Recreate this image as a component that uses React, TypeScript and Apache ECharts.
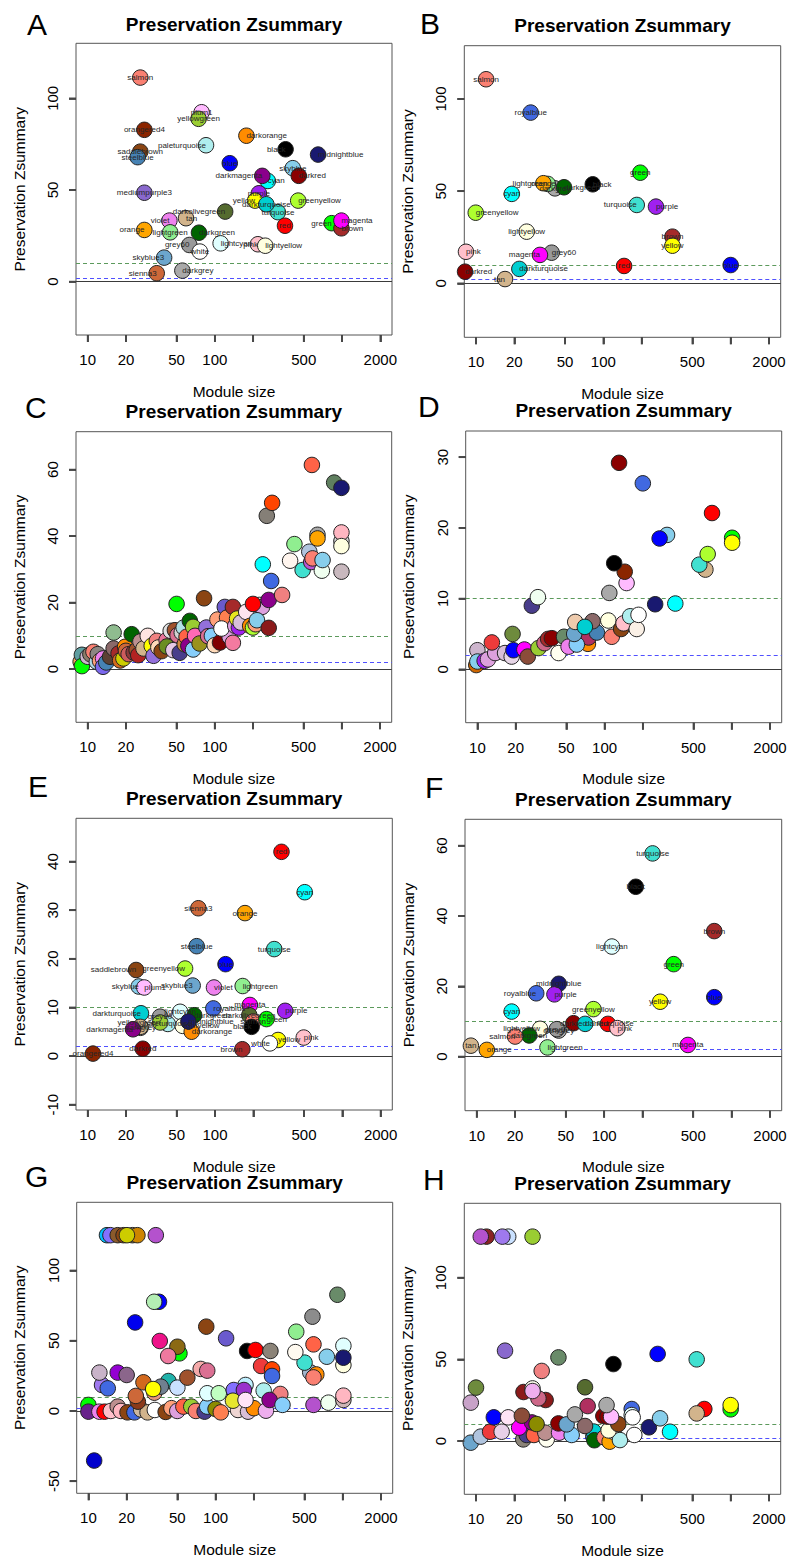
import React, { useEffect, useRef } from "react";
import * as echarts from "echarts";

const FONT = "'Liberation Sans', Arial, Helvetica, sans-serif";

// ---------- shared axis values ----------
const X_TICKS = [10, 20, 50, 100, 200, 500, 1000, 2000];
const X_TICK_LABELS = [10, 20, 50, 100, 500, 2000];
const X_MIN = Math.pow(10, 0.908);
const X_MAX = Math.pow(10, 3.393);

const TITLE = "Preservation Zsummary";
const Y_NAME = "Preservation Zsummary";
const X_NAME = "Module size";
const LETTERS = ["A", "B", "C", "D", "E", "F", "G", "H"];

// ---------- panel A (labelled) ----------
const A_MODULES = ["salmon", "plum1", "yellowgreen", "orangered4", "darkorange", "paleturquoise", "saddlebrown", "steelblue", "black", "midnightblue", "blue", "skyblue", "darkred", "cyan", "darkmagenta", "mediumpurple3", "purple", "yellow", "greenyellow", "turquoise", "darkturquoise", "darkolivegreen", "tan", "violet", "red", "green", "brown", "magenta", "orange", "lightgreen", "darkgreen", "grey60", "lightcyan", "pink", "lightyellow", "white", "skyblue3", "darkgrey", "sienna3"];
const A_SIZE = [25.9, 78.7, 74.5, 27.9, 177, 85.2, 25.9, 24.7, 360, 648, 131, 410, 457, 261, 236, 27.9, 222, 207, 452, 313, 254, 120.5, 59.3, 43.9, 356, 830, 989, 989, 27.9, 44.5, 75, 63, 111, 218, 249, 76.3, 39.9, 55.5, 34.9];
const A_ZSUMMARY = [111.3, 92.4, 88.8, 82.8, 79.6, 74.4, 70.9, 67.9, 72.2, 69.3, 64.6, 61.9, 57.7, 54.9, 57.7, 48.5, 48.2, 44.2, 44.2, 37.9, 42.2, 38.2, 34.6, 33.3, 30.5, 31.9, 29.1, 33.3, 28.2, 26.9, 26.7, 20.0, 20.9, 20.4, 19.6, 16.4, 13.1, 6.0, 4.6];
const A_LABEL_SIDE = ["t", "t", "b", "t", "tr", "l", "t", "b", "tl", "r", "t", "t", "br", "rb", "lt", "t", "t", "lb", "r", "b", "b", "l", "rt", "l", "t", "l", "br", "tr", "l", "b", "r", "l", "rt", "l", "r", "b", "lb", "r", "l"];

// ---------- panel B (labelled) ----------
const B_MODULES = ["salmon", "royalblue", "green", "black", "darkgrey", "lightgreen", "orange", "darkgreen", "cyan", "turquoise", "purple", "greenyellow", "lightyellow", "brown", "yellow", "pink", "grey60", "magenta", "darkturquoise", "red", "blue", "darkred", "tan"];
const B_SIZE = [12.0, 26.9, 195, 82.6, 41.7, 36.6, 33.8, 49.1, 19.1, 183, 259, 9.95, 25, 349, 349, 8.34, 39.3, 31.8, 21.9, 145.5, 1000, 8.2, 16.9];
const B_ZSUMMARY = [110.7, 92.6, 60.0, 53.7, 51.5, 53.9, 54.3, 52.1, 48.5, 42.5, 41.6, 38.3, 28.0, 25.3, 20.4, 17.1, 16.6, 15.4, 7.8, 9.4, 9.9, 6.3, 2.3];
const B_LABEL_SIDE = ["t", "t", "t", "rt", "b", "lt", "t", "r", "t", "l", "r", "tr", "t", "t", "b", "rt", "r", "lb", "tr", "t", "t", "rt", "lb"];

// ---------- panel C ----------
const C_SIZE = [8.8, 9, 9, 10, 10.5, 11.1, 11.8, 12, 12.5, 13.2, 13.2, 14, 15, 16, 16, 17.5, 18, 19.7, 19.1, 20, 21, 22.2, 23, 24.3, 25, 26, 27.5, 29.7, 31.9, 33, 35, 36, 38.2, 41.8, 42, 45, 47.2, 48.6, 51, 53, 50.1, 55, 57, 58, 60, 62, 67.6, 63.7, 67.6, 70, 76, 82.4, 86, 88.7, 95, 100, 105, 110, 120, 125, 131, 139, 139, 113, 145, 155, 150, 160, 177, 190, 200, 210, 225, 236, 200, 215, 266, 266, 239, 278, 339, 257, 283, 392, 424, 492, 555, 575, 589, 582, 644, 644, 697, 706, 871, 994, 994, 994, 994, 994];
const C_ZSUMMARY = [2.2, 4.3, 0.9, 3.7, 4.5, 5.2, 2.2, 4.5, 2.5, 3.2, 0.7, 2.0, 3.7, 6.2, 11.0, 4.7, 2.6, 6.7, 3.2, 5.5, 4.5, 10.5, 5.0, 5.7, 4.2, 8.3, 6.2, 10.0, 7.0, 4.0, 8.5, 6.5, 5.4, 8.7, 6.8, 11.5, 5.7, 11.7, 10.2, 4.9, 19.6, 11.0, 12.5, 7.5, 9.7, 7.0, 5.9, 14.5, 12.7, 10.0, 7.7, 21.3, 12.5, 9.9, 10.0, 7.2, 14.9, 8.0, 18.7, 15.5, 9.7, 18.7, 7.9, 12.2, 13.0, 12.5, 15.2, 14.0, 17.2, 13.0, 12.5, 13.5, 19.3, 18.7, 19.6, 14.7, 20.8, 12.4, 31.5, 26.5, 22.3, 46.1, 50.0, 32.6, 37.6, 29.8, 35.3, 32.2, 33.3, 61.4, 40.4, 39.3, 29.6, 32.8, 56.1, 54.5, 38.5, 41.1, 37.0, 29.3];
const C_COLOR = ["#F4A460", "#5F9EA0", "#00FF00", "#CDB5CD", "#8B7D6B", "#FA8072", "#ADD8E6", "#8B8682", "#FFA07A", "#EE82EE", "#7B68EE", "#4682B4", "#5C4033", "#8B6969", "#8FBC8F", "#A52A2A", "#D2691E", "#FF8C00", "#CDCD00", "#CD6839", "#CD5C5C", "#006400", "#8B3A3A", "#A0522D", "#B22222", "#BC8F8F", "#D2B48C", "#FFE4E1", "#FFFF00", "#9370DB", "#F08080", "#FFDAB9", "#8B4513", "#E8749A", "#6B8E23", "#E0E0E0", "#E6C8E6", "#A0522D", "#DB7093", "#483D8B", "#00FF00", "#D3D3D3", "#B0E0E6", "#CD853F", "#FF6347", "#8B008B", "#87CEFA", "#006400", "#9ACD32", "#FF69B4", "#9A921C", "#8B4513", "#9370DB", "#DB7093", "#87CEFA", "#FFDAB9", "#FFA07A", "#800000", "#6A5ACD", "#FF7F50", "#DDA0DD", "#A52A2A", "#F47AA0", "#FFFFFF", "#DDA0DD", "#A020F0", "#E6E620", "#D8BFD8", "#FFE4F0", "#FF8C00", "#ADFF2F", "#FFA07A", "#D3D3D3", "#DDA0DD", "#FF0000", "#87CEEB", "#8B008B", "#8B1A1A", "#00FFFF", "#4169E1", "#F08080", "#857F77", "#FF4500", "#FFF5EE", "#90EE90", "#40E0D0", "#B0C4DE", "#BA55D3", "#FA8072", "#FF6347", "#A9A9A9", "#FFA500", "#F0FFF0", "#87CEEB", "#5F7F5F", "#191970", "#D3D3D3", "#FFB6C1", "#FFFFE0", "#C8B8BE"];

// ---------- panel D ----------
const D_SIZE = [9.8, 10, 10, 11.4, 12.1, 13.8, 13.0, 16.5, 18.6, 19.2, 18.9, 23.4, 24.9, 30.2, 33.7, 36, 38.5, 48, 43.5, 52.1, 74, 74.8, 60.5, 57.7, 58.8, 87, 80.5, 70, 114, 107, 135, 141, 159, 179, 185, 360, 250, 26.8, 29.9, 109, 149, 144, 119, 621, 556, 647, 310, 271, 1007, 1007, 700, 200, 130];
const D_ZSUMMARY = [0.6, 2.7, 1.1, 1.2, 1.4, 2.3, 3.8, 2.3, 1.8, 2.7, 5.0, 2.8, 1.8, 3.0, 3.7, 4.3, 4.4, 4.6, 2.3, 3.2, 3.6, 4.5, 3.5, 5.0, 6.7, 5.2, 6.8, 6.0, 4.6, 6.9, 5.7, 6.5, 7.5, 5.7, 7.7, 9.3, 9.2, 9.0, 10.2, 10.8, 12.2, 13.8, 15.0, 14.1, 14.8, 16.3, 19.0, 18.5, 18.6, 17.9, 22.1, 26.3, 29.2];
const D_COLOR = ["#CD6600", "#CDB5CD", "#87CEEB", "#A020F0", "#DDA0DD", "#DDA0DD", "#EE3B3B", "#D8BFD8", "#E6D5E6", "#0000FF", "#6E8B3D", "#FF00FF", "#8B4C39", "#9ACD32", "#CD6889", "#A52A2A", "#8B0000", "#698B69", "#FFFFF0", "#EE82EE", "#FF8C00", "#B03060", "#87CEFA", "#6CA6CD", "#EECBAD", "#4682B4", "#8B6969", "#00CED1", "#FA8072", "#FFFFE0", "#8B4513", "#FFC0CB", "#AFEEEE", "#FAF0E6", "#FFFFFF", "#00FFFF", "#191970", "#483D8B", "#F0FFF0", "#A9A9A9", "#FFBBFF", "#8B2500", "#000000", "#D2B48C", "#40E0D0", "#ADFF2F", "#87CEEB", "#0000FF", "#00FF00", "#FFFF00", "#FF0000", "#4169E1", "#8B0000"];

// ---------- panel E (labelled) ----------
const E_MODULES = ["red", "cyan", "sienna3", "orange", "steelblue", "turquoise", "blue", "saddlebrown", "greenyellow", "skyblue", "plum1", "skyblue3", "violet", "lightgreen", "magenta", "purple", "royalblue", "darkolivegreen", "darkgreen", "lightcyan", "grey60", "darkturquoise", "paleturquoise", "yellowgreen", "darkgrey", "tan", "darkmagenta", "lightyellow", "darkorange", "midnightblue", "salmon", "black", "green", "yellow", "pink", "white", "brown", "darkred", "orangered4"];
const E_SIZE = [333, 507, 74, 172, 71.8, 292, 121, 24, 58.2, 25.2, 27.8, 66.8, 98.2, 165, 188, 356, 97, 186, 68.6, 53.2, 37, 26.2, 42.6, 37.1, 26, 25.9, 22.7, 55.8, 65.6, 61.8, 199.5, 194, 254, 313, 498, 270, 164, 27.1, 11];
const E_ZSUMMARY = [42.0, 33.7, 30.4, 29.4, 22.6, 22.0, 18.9, 17.7, 18.0, 14.3, 14.1, 14.5, 14.1, 14.4, 10.5, 9.3, 9.8, 8.4, 8.4, 9.1, 8.1, 8.8, 6.6, 6.9, 5.8, 6.0, 5.5, 6.2, 5.0, 7.1, 7.1, 6.0, 7.6, 3.3, 3.8, 2.6, 1.4, 1.5, 0.5];
const E_LABEL_SIDE = ["t", "t", "t", "t", "t", "t", "t", "l", "lb", "l", "r", "l", "r", "r", "t", "rt", "tr", "t", "tr", "t", "t", "l", "b", "l", "b", "t", "lb", "br", "br", "r", "t", "bl", "r", "rt", "rt", "l", "l", "t", "c"];

// ---------- panel F (labelled) ----------
const F_MODULES = ["turquoise", "black", "brown", "lightcyan", "green", "midnightblue", "royalblue", "purple", "yellow", "blue", "cyan", "greenyellow", "darkred", "darkturquoise", "red", "pink", "lightyellow", "darkgrey", "grey60", "darkgreen", "salmon", "lightgreen", "magenta", "tan", "orange"];
const F_SIZE = [240, 177, 731, 115, 351, 44, 29.3, 40.7, 275, 731, 18.8, 82.4, 57.4, 70.9, 107, 127, 31.4, 44, 42.5, 25.8, 20, 35.9, 454, 9.0, 12];
const F_ZSUMMARY = [57.8, 48.3, 35.7, 31.3, 26.3, 20.7, 18.0, 17.7, 15.6, 16.9, 12.8, 13.5, 9.5, 9.3, 9.3, 8.1, 7.9, 7.4, 7.8, 6.0, 5.7, 2.6, 3.3, 3.1, 1.9];
const F_LABEL_SIDE = ["t", "t", "t", "t", "t", "t", "l", "rb", "t", "t", "t", "t", "t", "rt", "l", "r", "lt", "b", "t", "b", "l", "rb", "t", "t", "rb"];

// ---------- panel G ----------
const G_SIZE = [10, 10, 12.2, 13.4, 15, 17, 18, 20.3, 23, 26, 29.2, 33.3, 40.5, 45, 50, 55.8, 64.4, 70, 82, 86, 100, 110, 150, 180, 200, 249, 24.5, 23.6, 33, 12.8, 14.2, 12.2, 17.0, 20, 27.1, 42.6, 37.1, 32.3, 50.1, 86, 106, 172, 139, 167, 239, 323, 137, 172, 266, 336, 589, 773, 1012, 1012, 60, 76.4, 86, 228, 278, 278, 555, 620, 589, 501, 424, 750, 1012, 1012, 1012, 177, 206, 270, 589, 52, 50.1, 42.4, 36.4, 431, 121, 84.5, 578, 23.3, 35.9, 32.9, 908, 14.0, 14.9, 17, 18.9, 22.2, 24.3, 33.9, 20.1, 11.1];
const G_ZSUMMARY = [4.3, -0.5, -0.5, -0.5, 0, 3.1, 0, -1, -1, 1, -1, 0.7, -0.7, 2, 0, 3.1, 3.1, 0, -0.5, 3.1, 1.4, -1, 0.7, -0.5, 2, 0.2, 6.6, 10.7, 13, 18.5, 16.1, 27.3, 27.3, 25.6, 20.4, 21.3, 17.3, 15.6, 16.6, 12.6, 12.6, 18.5, 14.9, 14.9, 14.5, 12.1, 7.3, 7.8, 7.8, 4.3, 4.3, 5.9, 7.8, 10.9, 23.7, 29.9, 28.7, 32.0, 29.6, 24.9, 27.5, 26, 23.9, 34.4, 41.9, 38.6, 46.4, 32.7, 37.9, 42.7, 43.4, 42.7, 47.4, 41.0, 45.7, 39.1, 49.8, 56.4, 51.7, 60.0, 67.1, 63.0, 77.7, 77.7, 82.7, 125.1, 125.1, 125.1, 125.1, 125.1, 125.1, 125.1, 125.1, -35.3];
const G_COLOR = ["#00FF00", "#68228B", "#EE82EE", "#FF0000", "#FFC0CB", "#BC8F8F", "#FFB6C1", "#8B4513", "#4169E1", "#CDB79E", "#D2B48C", "#FFFFFF", "#8B4513", "#FFA07A", "#DDA0DD", "#FF6347", "#9ACD32", "#FA8072", "#483D8B", "#87CEFA", "#8B8B00", "#FF7F50", "#EED5D2", "#D8BFD8", "#FF8C00", "#EEAEEE", "#8B3A1A", "#CD6839", "#E9967A", "#9F79EE", "#4169E1", "#C9B3C9", "#9400D3", "#8B668B", "#D2691E", "#20B2AA", "#708090", "#FFFF00", "#CAE1FF", "#E0FFFF", "#C1FFC1", "#BFEFFF", "#8470FF", "#9932CC", "#AFEEEE", "#F08080", "#E6E62E", "#FFE4F7", "#8B008B", "#87CEFA", "#B452CD", "#F0FFF0", "#CDB5B5", "#FFB6C1", "#A0522D", "#F4A9A9", "#DB7093", "#EE3B3B", "#FF4500", "#4169E1", "#A2B5CD", "#FF8C00", "#FA8072", "#40E0D0", "#FFFAF0", "#87CEEB", "#E0FFFF", "#FFFFE0", "#191970", "#000000", "#FF0000", "#8B8378", "#FF6347", "#00FF00", "#8B6914", "#EE799F", "#EE1289", "#90EE90", "#6A5ACD", "#8B4513", "#8C8C8C", "#0000EE", "#0000FF", "#B4EEB4", "#698B69", "#00BFFF", "#8470FF", "#8B5A2B", "#8B4513", "#8B7355", "#CD8500", "#B452CD", "#CDCD00", "#0000CD"];

// ---------- panel H ----------
const H_SIZE = [9.1, 10.9, 12.9, 15.9, 23.5, 25, 28.5, 35.9, 35, 44.9, 56.4, 83.4, 84, 85, 102, 112, 120, 135, 110, 175, 21.8, 27.5, 29.9, 44.4, 51.5, 71.8, 131, 228, 334, 279, 13.8, 17.9, 22.9, 59.8, 100, 108, 115, 167, 167, 170, 106, 75.3, 9.1, 35.2, 30.9, 23.6, 27.8, 27.8, 621, 541, 1000, 1000, 10, 71.8, 32.8, 541, 120, 44.4, 267, 16.9, 12.1, 10.9, 17.9, 16.1, 27.8];
const H_ZSUMMARY = [-1, 2.7, 5.7, 5.7, 1, 3.7, 3.7, 1, 5.1, 5.1, 3.7, 2.7, 5.8, 0.5, 2.2, -0.4, 5.7, 0.6, 6.5, 3.7, 8.2, 11.4, 10.4, 10.8, 10.2, 9.2, 10.4, 8.4, 5.7, 13.9, 14.5, 14.5, 15.5, 16.3, 15.3, 14.9, 14.9, 19.6, 15.9, 14.5, 22.0, 21.4, 23.5, 25.1, 26.1, 30.0, 32.2, 30.6, 19.6, 16.9, 19.4, 22.0, 32.7, 32.9, 42.9, 50.0, 47.1, 51.2, 53.3, 55.3, 125.1, 125.1, 125.1, 125.1, 125.1];
const H_COLOR = ["#6CA6CD", "#B0C4DE", "#EE3B3B", "#E8D0E8", "#8B8378", "#483D8B", "#FF6347", "#FFFFF0", "#BC8F8F", "#EE82EE", "#87CEFA", "#4682B4", "#00CED1", "#006400", "#FA8072", "#FFA500", "#FFE4E1", "#AFEEEE", "#FFFFE0", "#FFFFFF", "#FF00FF", "#8B008B", "#8B8B00", "#8B0000", "#6CA6CD", "#8B6969", "#8B4513", "#191970", "#00FFFF", "#87CEEB", "#0000FF", "#FFE4F5", "#8B4C39", "#A9A9A9", "#8B0000", "#8B0000", "#FFBBFF", "#4169E1", "#E0FFFF", "#FFFFFF", "#A9A9A9", "#B03060", "#C8A2C8", "#8B1A1A", "#CD6889", "#8B1A1A", "#FFFFF0", "#EEAEEE", "#FF0000", "#D2B48C", "#00FF00", "#FFFF00", "#6E8B3D", "#556B2F", "#F08080", "#40E0D0", "#000000", "#698B69", "#0000FF", "#8968CD", "#8B2323", "#B452CD", "#CAE1FF", "#9F79EE", "#9ACD32"];

// ---------- layout (pixels) ----------
const GRIDS = [
  { left: 76, top: 43.3, width: 316, height: 291.7 },
  { left: 464.3, top: 45.7, width: 316.4, height: 291.6 },
  { left: 76, top: 431.7, width: 315.7, height: 290.6 },
  { left: 465.7, top: 431, width: 316, height: 291.7 },
  { left: 76, top: 818.3, width: 316.3, height: 291.7 },
  { left: 465, top: 819.3, width: 316.7, height: 291.4 },
  { left: 76.7, top: 1202.3, width: 316, height: 291 },
  { left: 464.3, top: 1203.3, width: 316.4, height: 291 },
];
const Y_RANGES = [[-29.1, 130], [-29.3, 128.9], [-16, 71.4], [-7.55, 33.7], [-11.1, 48.9], [-15.4, 67.5], [-58.6, 148.5], [-32.6, 145.5]];
const Y_TICKS = [[0, 50, 100], [0, 50, 100], [0, 20, 40, 60], [0, 10, 20, 30], [-10, 0, 10, 20, 30, 40], [0, 20, 40, 60], [-50, 0, 50, 100], [0, 50, 100]];
const TITLE_Y = [24, 25, 411.7, 410.7, 798.8, 799, 1182.7, 1183.3];
const LETTER_POS = [[27, 24], [420, 23], [25, 407], [418, 406], [28, 786], [425, 787], [25, 1176], [423, 1179]];
const TICK_LEN = 7;
const TICK_W = 1.8;
const TICK_COLOR = "#444";

const R_COLORS: Record<string, string> = {
  green: "#00FF00", purple: "#A020F0", grey: "#BEBEBE", plum1: "#FFBBFF", orangered4: "#8B2500",
  mediumpurple3: "#8968CD", skyblue3: "#6CA6CD", sienna3: "#CD6839", grey60: "#999999",
  darkgrey: "#A9A9A9", lightcyan: "#E0FFFF", lightyellow: "#FFFFE0", royalblue: "#4169E1",
};
const rcol = (n: string) => R_COLORS[n] || n;

const SIDES: Record<string, [string, number, number]> = {
  t: ["center", 0, -5], b: ["center", 0, 5], c: ["center", 0, 0],
  r: ["left", 0, 0], l: ["right", 0, 0],
  rt: ["left", 0, -4], rb: ["left", 0, 4], lt: ["right", 0, -4], lb: ["right", 0, 4],
  tr: ["left", -7, -5], tl: ["right", 7, -5], br: ["left", -7, 5], bl: ["right", 7, 5],
};

function labelled(names: string[], sizes: number[], z: number[], sides: string[]) {
  return names.map((n, i) => {
    const s = SIDES[sides[i]] || SIDES.t;
    return {
      name: n,
      value: [sizes[i], z[i]],
      itemStyle: { color: rcol(n) },
      label: { show: true, position: "inside", align: s[0], verticalAlign: "middle", offset: [s[1], s[2]] },
    };
  });
}
function plain(sizes: number[], z: number[], colors: string[]) {
  return sizes.map((s, i) => ({ value: [s, z[i]], itemStyle: { color: colors[i] } }));
}

const PANEL_DATA = [
  labelled(A_MODULES, A_SIZE, A_ZSUMMARY, A_LABEL_SIDE),
  labelled(B_MODULES, B_SIZE, B_ZSUMMARY, B_LABEL_SIDE),
  plain(C_SIZE, C_ZSUMMARY, C_COLOR),
  plain(D_SIZE, D_ZSUMMARY, D_COLOR),
  labelled(E_MODULES, E_SIZE, E_ZSUMMARY, E_LABEL_SIDE),
  labelled(F_MODULES, F_SIZE, F_ZSUMMARY, F_LABEL_SIDE),
  plain(G_SIZE, G_ZSUMMARY, G_COLOR),
  plain(H_SIZE, H_ZSUMMARY, H_COLOR),
];

function textGraphics() {
  const graphic: any[] = [];
  GRIDS.forEach((g, i) => {
    const cx = g.left + g.width / 2;
    const cy = g.top + g.height / 2;
    graphic.push({
      type: "text", x: cx, y: TITLE_Y[i], silent: true,
      style: { text: TITLE, fontFamily: FONT, fontSize: 19, fontWeight: "bold", fill: "#000", textAlign: "center", textVerticalAlign: "middle" },
    });
    graphic.push({
      type: "text", x: g.left - 57, y: cy, rotation: Math.PI / 2, silent: true,
      style: { text: Y_NAME, fontFamily: FONT, fontSize: 15.5, fill: "#000", textAlign: "center", textVerticalAlign: "middle" },
    });
    graphic.push({
      type: "text", x: cx, y: g.top + g.height + 56, silent: true,
      style: { text: X_NAME, fontFamily: FONT, fontSize: 15.5, fill: "#000", textAlign: "center", textVerticalAlign: "middle" },
    });
    graphic.push({
      type: "text", x: LETTER_POS[i][0], y: LETTER_POS[i][1], silent: true,
      style: { text: LETTERS[i], fontFamily: FONT, fontSize: 30, fill: "#000", textAlign: "left", textVerticalAlign: "middle" },
    });
  });
  return graphic;
}

const TICK_MARKLINE = {
  silent: true, symbol: ["none", "none"], animation: false,
  label: { show: false },
  lineStyle: { color: TICK_COLOR, type: "solid", width: TICK_W },
};

function buildOption() {
  const grid: any[] = [];
  const xAxis: any[] = [];
  const yAxis: any[] = [];
  const series: any[] = [];
  const N = GRIDS.length;

  // main plot panels: grid/axis indices 0..7
  GRIDS.forEach((g, i) => {
    const [yMin, yMax] = Y_RANGES[i];
    grid.push({
      left: g.left, top: g.top, width: g.width, height: g.height,
      show: true, borderColor: "#555", borderWidth: 1, backgroundColor: "transparent",
      containLabel: false,
    });
    xAxis.push({
      type: "log", logBase: 10, gridIndex: i, min: X_MIN, max: X_MAX,
      axisLine: { show: false },
      splitLine: { show: false }, minorTick: { show: false }, minorSplitLine: { show: false },
      axisTick: { show: false },
      axisLabel: {
        show: true, customValues: X_TICK_LABELS, color: "#000", fontSize: 15, fontFamily: FONT, margin: 17,
        formatter: (v: number) => String(v),
      },
    });
    yAxis.push({
      type: "value", gridIndex: i, min: yMin, max: yMax,
      axisLine: { show: false }, splitLine: { show: false },
      axisTick: { show: false },
      axisLabel: {
        show: true, customValues: Y_TICKS[i], color: "#000", fontSize: 15, fontFamily: FONT, margin: 16, rotate: 90,
        formatter: (v: number) => String(v),
      },
    });
    series.push({
      type: "line", xAxisIndex: i, yAxisIndex: i, data: [], z: 1, silent: true,
      markLine: {
        silent: true, symbol: ["none", "none"], z: 1, animation: false,
        label: { show: false },
        data: [
          { yAxis: 0, lineStyle: { color: "#3a3a3a", type: "solid", width: 1 } },
          { yAxis: 2, lineStyle: { color: "#5050ff", type: [4, 3], width: 1.2 } },
          { yAxis: 10, lineStyle: { color: "#5c9a5c", type: [4, 3], width: 1.2 } },
        ],
      },
    });
    series.push({
      type: "scatter", xAxisIndex: i, yAxisIndex: i, z: 3, clip: true,
      symbol: "circle", symbolSize: 15.5,
      itemStyle: { borderColor: "#222", borderWidth: 1, opacity: 1 },
      label: { show: false, fontSize: 8, fontFamily: FONT, color: "#262626", formatter: "{b}" },
      labelLayout: { hideOverlap: false },
      emphasis: { disabled: true },
      data: PANEL_DATA[i],
    });
  });

  // x tick strips (just below each box): same log scale as the panel above
  GRIDS.forEach((g, i) => {
    const k = N + i;
    grid.push({ left: g.left, top: g.top + g.height, width: g.width, height: TICK_LEN, show: false, containLabel: false });
    xAxis.push({
      type: "log", logBase: 10, gridIndex: k, min: X_MIN, max: X_MAX,
      axisLine: { show: false }, axisTick: { show: false }, axisLabel: { show: false }, splitLine: { show: false },
    });
    yAxis.push({
      type: "value", gridIndex: k, min: 0, max: 1,
      axisLine: { show: false }, axisTick: { show: false }, axisLabel: { show: false }, splitLine: { show: false },
    });
    series.push({
      type: "line", xAxisIndex: k, yAxisIndex: k, data: [], silent: true, z: 5,
      markLine: { ...TICK_MARKLINE, data: X_TICKS.map((t) => ({ xAxis: t })) },
    });
    series.push({
      type: "scatter", xAxisIndex: k, yAxisIndex: k, silent: true, z: 5, clip: false,
      symbol: "rect", symbolSize: [TICK_W, TICK_LEN],
      itemStyle: { color: TICK_COLOR, borderWidth: 0 }, emphasis: { disabled: true },
      data: X_TICKS.map((t) => [t, 0.5]),
    });
  });

  // y tick strips (just left of each box): same value scale as the panel
  GRIDS.forEach((g, i) => {
    const k = 2 * N + i;
    grid.push({ left: g.left - TICK_LEN, top: g.top, width: TICK_LEN, height: g.height, show: false, containLabel: false });
    xAxis.push({
      type: "value", gridIndex: k, min: 0, max: 1,
      axisLine: { show: false }, axisTick: { show: false }, axisLabel: { show: false }, splitLine: { show: false },
    });
    yAxis.push({
      type: "value", gridIndex: k, min: Y_RANGES[i][0], max: Y_RANGES[i][1],
      axisLine: { show: false }, axisTick: { show: false }, axisLabel: { show: false }, splitLine: { show: false },
    });
    series.push({
      type: "line", xAxisIndex: k, yAxisIndex: k, data: [], silent: true, z: 5,
      markLine: { ...TICK_MARKLINE, data: Y_TICKS[i].map((t) => ({ yAxis: t })) },
    });
    series.push({
      type: "scatter", xAxisIndex: k, yAxisIndex: k, silent: true, z: 5, clip: false,
      symbol: "rect", symbolSize: [TICK_LEN, TICK_W],
      itemStyle: { color: TICK_COLOR, borderWidth: 0 }, emphasis: { disabled: true },
      data: Y_TICKS[i].map((t) => [0.5, t]),
    });
  });

  return { animation: false, backgroundColor: "#fff", grid, xAxis, yAxis, series, graphic: textGraphics() };
}

export default function App() {
  const ref = useRef<HTMLDivElement>(null);
  useEffect(() => {
    document.body.style.margin = "0";
    if (!ref.current) return;
    const chart = echarts.init(ref.current, null, { renderer: "svg" });
    chart.setOption(buildOption() as any);
    return () => chart.dispose();
  }, []);
  return <div ref={ref} style={{ width: 790, height: 1561 }} />;
}
